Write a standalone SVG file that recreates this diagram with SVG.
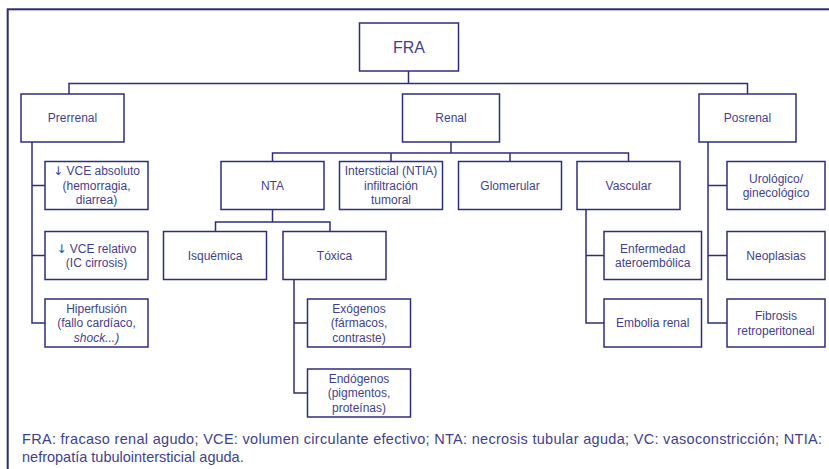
<svg xmlns="http://www.w3.org/2000/svg" width="829" height="469" viewBox="0 0 829 469">
<style>
.b{fill:#fff;stroke:#2f2e7c;stroke-width:1.5}
.c{fill:none;stroke:#2f2e7c;stroke-width:1.5}
text{font-family:"Liberation Sans","Open Sans",sans-serif;font-size:12px;fill:#3f3f8c;text-anchor:middle}
.f{font-size:14.5px;text-anchor:start}
.ar{font-family:"DejaVu Sans",sans-serif;font-size:12px}
</style>
<rect x="0" y="0" width="829" height="469" fill="#fff"/>
<rect x="7.7" y="9.3" width="840" height="480" fill="none" stroke="#2b2a72" stroke-width="2"/>
<g id="connectors" class="c">
<path d="M408.5 71V83.5M69 94V83.5H747.5V94"/>
<path d="M451 142V153M272.5 161.5V153H628.5V161.5M391 153V161.5M510 153V161.5"/>
<path d="M32 142V323H45M32 185.5H45M32 255.5H45"/>
<path d="M272.5 209.5V222M215.5 231.5V222H330V231.5"/>
<path d="M294 279.5V393H307.5M294 323H307.5"/>
<path d="M586 209.5V323H604M586 255.5H604"/>
<path d="M708 142V323H727M708 185.5H727M708 255.5H727"/>
</g>
<g id="fra"><rect class="b" x="359.5" y="23" width="99" height="48"/><text x="409" y="53" style="font-size:16px">FRA</text></g>
<g id="prerrenal"><rect class="b" x="21" y="94" width="103" height="48"/><text x="72.5" y="122.3">Prerrenal</text></g>
<g id="renal"><rect class="b" x="402.5" y="94" width="97" height="48"/><text x="451" y="122.3">Renal</text></g>
<g id="posrenal"><rect class="b" x="699" y="94" width="97" height="48"/><text x="747.5" y="122.3">Posrenal</text></g>
<g id="vce-absoluto"><rect class="b" x="45" y="161.5" width="103" height="48"/><text x="96.5" y="175.3"><tspan class="ar">↓</tspan> VCE absoluto</text><text x="96.5" y="189.8">(hemorragia,</text><text x="96.5" y="204.3">diarrea)</text></g>
<g id="vce-relativo"><rect class="b" x="45" y="231.5" width="103" height="48"/><text x="96.5" y="252.5"><tspan class="ar">↓</tspan> VCE relativo</text><text x="96.5" y="267">(IC cirrosis)</text></g>
<g id="hiperfusion"><rect class="b" x="45" y="299" width="103" height="48"/><text x="96.5" y="312.8">Hiperfusión</text><text x="96.5" y="327.3">(fallo cardíaco,</text><text x="96.5" y="341.8"><tspan font-style="italic">shock...)</tspan></text></g>
<g id="nta"><rect class="b" x="221" y="161.5" width="103" height="48"/><text x="272.5" y="189.8">NTA</text></g>
<g id="intersticial"><rect class="b" x="339.5" y="161.5" width="103" height="48"/><text x="391" y="175.3">Intersticial (NTIA)</text><text x="391" y="189.8">infiltración</text><text x="391" y="204.3">tumoral</text></g>
<g id="glomerular"><rect class="b" x="458.5" y="161.5" width="103" height="48"/><text x="510" y="189.8">Glomerular</text></g>
<g id="vascular"><rect class="b" x="577" y="161.5" width="103" height="48"/><text x="628.5" y="189.8">Vascular</text></g>
<g id="urologico"><rect class="b" x="727" y="161.5" width="98" height="48"/><text x="776" y="182.5">Urológico/</text><text x="776" y="197">ginecológico</text></g>
<g id="isquemica"><rect class="b" x="163.5" y="231.5" width="103" height="48"/><text x="215" y="259.8">Isquémica</text></g>
<g id="toxica"><rect class="b" x="283" y="231.5" width="103" height="48"/><text x="334.5" y="259.8">Tóxica</text></g>
<g id="exogenos"><rect class="b" x="307.5" y="299" width="103" height="48"/><text x="359" y="312.8">Exógenos</text><text x="359" y="327.3">(fármacos,</text><text x="359" y="341.8">contraste)</text></g>
<g id="endogenos"><rect class="b" x="307.5" y="369" width="103" height="48"/><text x="359" y="382.8">Endógenos</text><text x="359" y="397.3">(pigmentos,</text><text x="359" y="411.8">proteínas)</text></g>
<g id="enfermedad"><rect class="b" x="604" y="231.5" width="97.5" height="48"/><text x="652.7" y="252.5">Enfermedad</text><text x="652.7" y="267">ateroembólica</text></g>
<g id="embolia"><rect class="b" x="604" y="299" width="97.5" height="48"/><text x="652.7" y="327.3">Embolia renal</text></g>
<g id="neoplasias"><rect class="b" x="727" y="231.5" width="98" height="48"/><text x="776" y="259.8">Neoplasias</text></g>
<g id="fibrosis"><rect class="b" x="727" y="299" width="98" height="48"/><text x="776" y="320">Fibrosis</text><text x="776" y="334.5">retroperitoneal</text></g>
<text class="f" x="22" y="444" textLength="800" lengthAdjust="spacing">FRA: fracaso renal agudo; VCE: volumen circulante efectivo; NTA: necrosis tubular aguda; VC: vasoconstricción; NTIA:</text>
<text class="f" x="22" y="462">nefropatía tubulointersticial aguda.</text>
</svg>
